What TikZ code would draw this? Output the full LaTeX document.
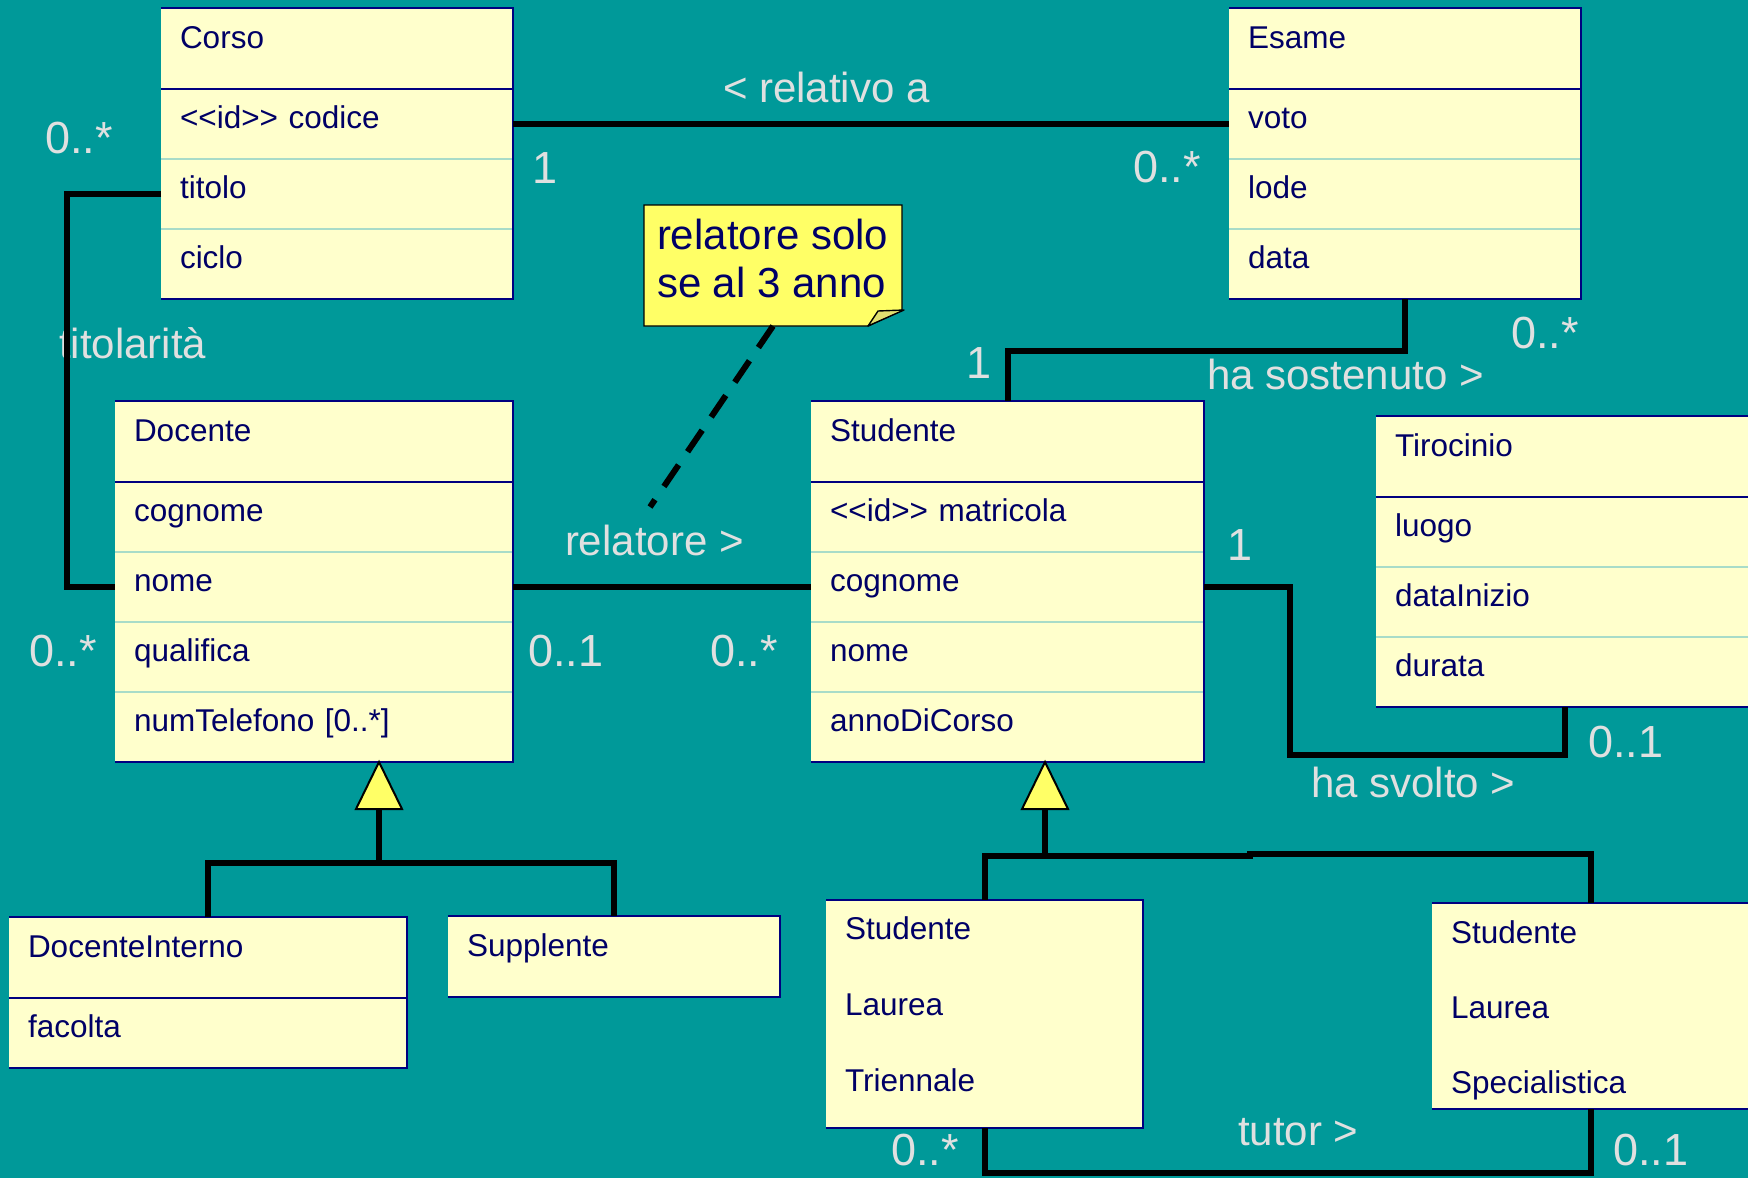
\documentclass[tikz,border=0pt]{standalone}
\usepackage{fontspec}
\setmainfont{Liberation Sans}
\usetikzlibrary{calc}
\pgfdeclarelayer{bglayer}
\pgfdeclarelayer{midlayer}
\pgfsetlayers{bglayer,midlayer,main}
\definecolor{bgteal}{HTML}{009999}
\definecolor{boxfill}{HTML}{FFFFCC}
\definecolor{navyline}{HTML}{000080}
\definecolor{navytext}{HTML}{000066}
\definecolor{divcol}{HTML}{A8DCC8}
\definecolor{labcol}{HTML}{E0E0E0}
\definecolor{notefill}{HTML}{FFFF66}
\definecolor{flapfill}{HTML}{E0E070}
\newcommand\myclsfont{\fontsize{15.75}{19}\selectfont}
\newcommand\mylabfont{\fontsize{21}{25}\selectfont}
\newcommand\mymultfont{\fontsize{22.5}{26}\selectfont}
\newcommand\mynotefont{\fontsize{21}{24}\selectfont}
\newcommand\myoutline[2]{\draw[outl] (#1.north west) -- (#1.north east) -- (#2.south east) -- (#2.south west);}
\newcommand\myhline[1]{\draw[hline] (#1.south west) -- (#1.south east);}
\newcommand\mydivline[1]{\draw[divl] (#1.south west) -- (#1.south east);}
\begin{document}
\begin{tikzpicture}[x=0.5pt,y=-0.5pt,
  cls/.style={anchor=north west, fill=boxfill, draw=none, inner xsep=9.5pt, inner ysep=0pt, outer sep=0pt, text=navytext, font=\myclsfont, align=left, text width=#1},
  hdr/.style={cls={#1}, text height=20pt, text depth=20.5pt},
  att/.style={cls={#1}, text height=19.5pt, text depth=15.5pt},
  trow/.style={cls={#1}, text height=19.5pt, text depth=18.5pt},
  srow/.style={cls={#1}, text height=20pt, text depth=17.5pt},
  srowlast/.style={cls={#1}, text height=20pt, text depth=8pt},
  outl/.style={draw=navyline, line width=1.25pt, line join=miter},
  hline/.style={draw=navyline, line width=1.25pt},
  divl/.style={draw=divcol, line width=0.6pt},
  conn/.style={draw=black, line width=3pt, line join=miter},
  dashconn/.style={draw=black, line width=3pt, dash pattern=on 13pt off 8pt},
  lab/.style={anchor=base west, inner sep=0pt, outer sep=0pt, text=labcol, font=\mylabfont},
  mult/.style={lab, font=\mymultfont},
  gentri/.style={draw=black, fill=notefill, line width=1pt, line join=miter},
  notebox/.style={minimum width=129pt, minimum height=60.5pt, inner xsep=6.5pt, inner ysep=0pt, outer sep=0pt, font=\mynotefont, text=navytext, text depth=7.5pt},
  noteline/.style={draw=black, line width=0.7pt, fill=notefill, line join=miter},
  flap/.style={draw=black, line width=0.7pt, fill=flapfill, line join=round},
]
\useasboundingbox (0,0) rectangle (1748,1178);
\begin{pgfonlayer}{bglayer}
\fill[bgteal] (0,0) rectangle (1748,1178);
\end{pgfonlayer}
\begin{scope}
\clip (0,0) rectangle (1748,1178);

% ---------- labels ----------
\node[mult] (m1) at (45,153) {0..*};
\node[mult] (m2) at (532,183) {1};
\node[lab] (an1) at (723,102) {< relativo a};
\node[mult] (m3) at (1133,182) {0..*};
\node[lab] (an2) at (59,358) {titolarità};
\node[mult] (m4) at (1511,348) {0..*};
\node[lab] (an3) at (1207,389) {ha sostenuto >};
\node[mult] (m5) at (966,378) {1};
\node[lab] (an4) at (565,555) {relatore >};
\node[mult] (m6) at (528,666) {0..1};
\node[mult] (m7) at (710,666) {0..*};
\node[mult] (m8) at (29,666) {0..*};
\node[mult] (m9) at (1227,560) {1};
\node[mult] (m10) at (1588,757) {0..1};
\node[lab] (an5) at (1311,797) {ha svolto >};
\node[mult] (m11) at (891,1165) {0..*};
\node[lab] (an6) at (1238,1145) {tutor >};
\node[mult] (m12) at (1613,1165) {0..1};

% ---------- Corso ----------
\node[hdr=157pt] (corso-h) at (161,8) {Corso};
\node[att=157pt] (corso-1) at (corso-h.south west) {<\kern0pt<id>\kern0pt> codice};
\node[att=157pt] (corso-2) at (corso-1.south west) {titolo};
\node[att=157pt] (corso-3) at (corso-2.south west) {ciclo};
\mydivline{corso-1}\mydivline{corso-2}\myhline{corso-h}
\myoutline{corso-h}{corso-3}

% ---------- Esame ----------
\node[hdr=157pt] (esame-h) at (1229,8) {Esame};
\node[att=157pt] (esame-1) at (esame-h.south west) {voto};
\node[att=157pt] (esame-2) at (esame-1.south west) {lode};
\node[att=157pt] (esame-3) at (esame-2.south west) {data};
\mydivline{esame-1}\mydivline{esame-2}\myhline{esame-h}
\myoutline{esame-h}{esame-3}

% ---------- Docente ----------
\node[hdr=180pt] (doc-h) at (115,401) {Docente};
\node[att=180pt] (doc-1) at (doc-h.south west) {cognome};
\node[att=180pt] (doc-2) at (doc-1.south west) {nome};
\node[att=180pt] (doc-3) at (doc-2.south west) {qualifica};
\node[att=180pt] (doc-4) at (doc-3.south west) {numTelefono [0..*]};
\mydivline{doc-1}\mydivline{doc-2}\mydivline{doc-3}\myhline{doc-h}
\myoutline{doc-h}{doc-4}

% ---------- Studente ----------
\node[hdr=177.5pt] (stud-h) at (811,401) {Studente};
\node[att=177.5pt] (stud-1) at (stud-h.south west) {<\kern0pt<id>\kern0pt> matricola};
\node[att=177.5pt] (stud-2) at (stud-1.south west) {cognome};
\node[att=177.5pt] (stud-3) at (stud-2.south west) {nome};
\node[att=177.5pt] (stud-4) at (stud-3.south west) {annoDiCorso};
\mydivline{stud-1}\mydivline{stud-2}\mydivline{stud-3}\myhline{stud-h}
\myoutline{stud-h}{stud-4}

% ---------- Tirocinio ----------
\node[hdr=170pt] (tiro-h) at (1376,416) {Tirocinio};
\node[att=170pt] (tiro-1) at (tiro-h.south west) {luogo};
\node[att=170pt] (tiro-2) at (tiro-1.south west) {dataInizio};
\node[att=170pt] (tiro-3) at (tiro-2.south west) {durata};
\mydivline{tiro-1}\mydivline{tiro-2}\myhline{tiro-h}
\myoutline{tiro-h}{tiro-3}

% ---------- DocenteInterno ----------
\node[hdr=180pt] (di-h) at (9,917) {DocenteInterno};
\node[att=180pt] (di-1) at (di-h.south west) {facolta};
\myhline{di-h}
\myoutline{di-h}{di-1}

% ---------- Supplente ----------
\node[hdr=147pt] (sup-h) at (448,916) {Supplente};
\myoutline{sup-h}{sup-h}

% ---------- Studente Laurea Triennale ----------
\node[trow=139.5pt] (trien-1) at (826,900) {Studente};
\node[trow=139.5pt] (trien-2) at (trien-1.south west) {Laurea};
\node[trow=139.5pt] (trien-3) at (trien-2.south west) {Triennale};
\myoutline{trien-1}{trien-3}

% ---------- Studente Laurea Specialistica ----------
\node[srow=140pt] (spec-1) at (1432,903) {Studente};
\node[srow=140pt] (spec-2) at (spec-1.south west) {Laurea};
\node[srowlast=140pt] (spec-3) at (spec-2.south west) {Specialistica};
\myoutline{spec-1}{spec-3}

% ---------- note ----------
\node[notebox] (note) at (773,265.5) {\vbox{\hbox to 116pt{relatore solo\hss}\hbox to 116pt{se al 3 anno\hss}}};
\begin{pgfonlayer}{midlayer}
\filldraw[noteline] (note.north west) -- (note.north east) -- ($(note.south east)+(0,-16)$) -- ($(note.south east)+(-34,0)$) -- (note.south west) -- cycle;
\end{pgfonlayer}
\filldraw[flap] ($(note.south east)+(-34,0)$) -- ($(note.south east)+(-24,-15)$) -- ($(note.south east)+(2,-16)$) -- cycle;
\coordinate (relend) at (650,507);
\draw[dashconn] (note.south) -- (relend);

% ---------- associations ----------
\draw[conn] (corso-1.east) -- (esame-1.west);
\draw[conn] (corso-2.west) -- ++(-94,0) |- (doc-2.west);
\draw[conn] (doc-2.east) -- (stud-2.west);
\draw[conn] (esame-3.south) -- ++(0,52) -| (stud-h.north);
\draw[conn] (stud-2.east) -- ++(86,0) -- ++(0,168) -| (tiro-3.south);
\draw[conn] (trien-3.south) -- ++(0,45) -| (spec-3.south);

% ---------- generalizations ----------
\coordinate (docgen) at ($(doc-4.south west)+(264,0)$);
\draw[conn] ($(docgen)+(0,47)$) -- ++(0,54) coordinate (docbar);
\draw[conn] (di-h.north) |- (docbar) -| (sup-h.north);
\draw[gentri] (docgen) -- ++(-23,47) -- ++(46,0) -- cycle;

\coordinate (studgen) at ($(stud-4.south west)+(234,0)$);
\draw[conn] ($(studgen)+(0,47)$) -- ++(0,47) coordinate (studbar);
\draw[conn] (trien-1.north) |- (studbar) -- ++(205,0) -- ++(0,-2) -| (spec-1.north);
\draw[gentri] (studgen) -- ++(-23,47) -- ++(46,0) -- cycle;
\end{scope}
\end{tikzpicture}
\end{document}
